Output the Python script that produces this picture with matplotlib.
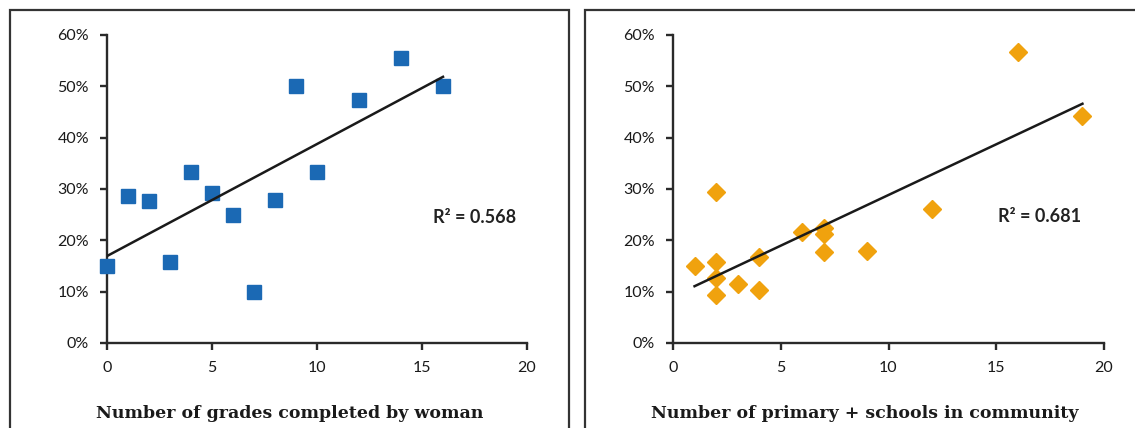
import numpy as np
import matplotlib
matplotlib.use("Agg")
import matplotlib.pyplot as plt
from matplotlib.patches import Rectangle
from matplotlib.ticker import PercentFormatter

# Share of women (%) by number of grades completed
grades_x = [0, 1, 2, 3, 4, 5, 6, 7, 8, 9, 10, 12, 14, 16]
grades_y = [15.0, 28.6, 27.7, 15.8, 33.3, 29.3, 25.0, 10.0, 27.8, 50.0, 33.3, 47.4, 55.6, 50.0]
grades_r2 = "0.568"

# Share (%) by number of primary + schools in community
schools_x = [1, 2, 2, 2, 2, 3, 4, 4, 6, 7, 7, 7, 9, 12, 16, 19]
schools_y = [15.0, 29.4, 15.8, 12.7, 9.4, 11.5, 16.7, 10.3, 21.6, 22.4, 21.2, 17.8, 17.9, 26.1, 56.7, 44.3]
schools_r2 = "0.681"

x_ticks = [0, 5, 10, 15, 20]
y_ticks = [0, 10, 20, 30, 40, 50, 60]

W, H = 1135, 428
fig = plt.figure(figsize=(W / 100, H / 100), dpi=100)
fig.patch.set_facecolor("white")

AX_COLOR = "#2a2a2a"
TICK_FONT = "Lato"
LABEL_FONT = "DejaVu Serif"


def px_rect(x0, y0, x1, y1):
    return [x0 / W, 1 - y1 / H, (x1 - x0) / W, (y1 - y0) / H]


def panel(rect, xs, ys, marker, ms, color, r2, r2_pos, xlabel, frame):
    # outer frame around each panel
    fx0, fy0, fx1, fy1 = frame
    fig.patches.append(Rectangle((fx0 / W, 1 - fy1 / H), (fx1 - fx0) / W, (fy1 - fy0) / H,
                                 transform=fig.transFigure, fill=False,
                                 edgecolor="#333333", linewidth=1.6, clip_on=False))
    ax = fig.add_axes(rect)
    ax.set_xlim(0, 20)
    ax.set_ylim(0, 60)
    ax.set_xticks(x_ticks)
    ax.set_yticks(y_ticks)
    ax.yaxis.set_major_formatter(PercentFormatter(decimals=0))
    for s in ("top", "right"):
        ax.spines[s].set_visible(False)
    for s in ("left", "bottom"):
        ax.spines[s].set_color(AX_COLOR)
        ax.spines[s].set_linewidth(1.7)
    ax.tick_params(axis="both", direction="out", length=5, width=1.7, color=AX_COLOR,
                   labelsize=11.5, labelcolor="#1a1a1a")
    ax.tick_params(axis="x", pad=8)
    ax.tick_params(axis="y", pad=8)
    for lbl in ax.get_xticklabels() + ax.get_yticklabels():
        lbl.set_fontfamily(TICK_FONT)

    ax.plot(xs, ys, linestyle="none", marker=marker, markersize=ms,
            markerfacecolor=color, markeredgecolor=color, zorder=3, clip_on=False)

    # least-squares trend line over the observed range
    slope, intercept = np.polyfit(xs, ys, 1)
    tx = np.array([min(xs), max(xs)])
    ax.plot(tx, slope * tx + intercept, color="#1a1a1a", linewidth=1.8, zorder=4)

    ax.text(r2_pos[0], r2_pos[1], "R² = " + r2, ha="center", va="center",
            fontsize=13, fontweight="bold", fontfamily=TICK_FONT, color="#222222")

    fig.text((fx0 + fx1) / 2 / W, 1 - 413 / H, xlabel, ha="center", va="center",
             fontsize=12.5, fontweight="bold", fontfamily=LABEL_FONT, color="#1a1a1a")
    return ax


panel(px_rect(107, 35, 527, 343), grades_x, grades_y, "s", 9.5, "#1b69b4",
      grades_r2, (17.5, 24.5), "Number of grades completed by woman", (10, 10, 569, 440))
panel(px_rect(673, 35, 1104, 343), schools_x, schools_y, "D", 9, "#f0a20e",
      schools_r2, (17.0, 24.6), "Number of primary + schools in community", (585, 10, 1145, 440))

fig.savefig("out.png", dpi=100, facecolor="white")
